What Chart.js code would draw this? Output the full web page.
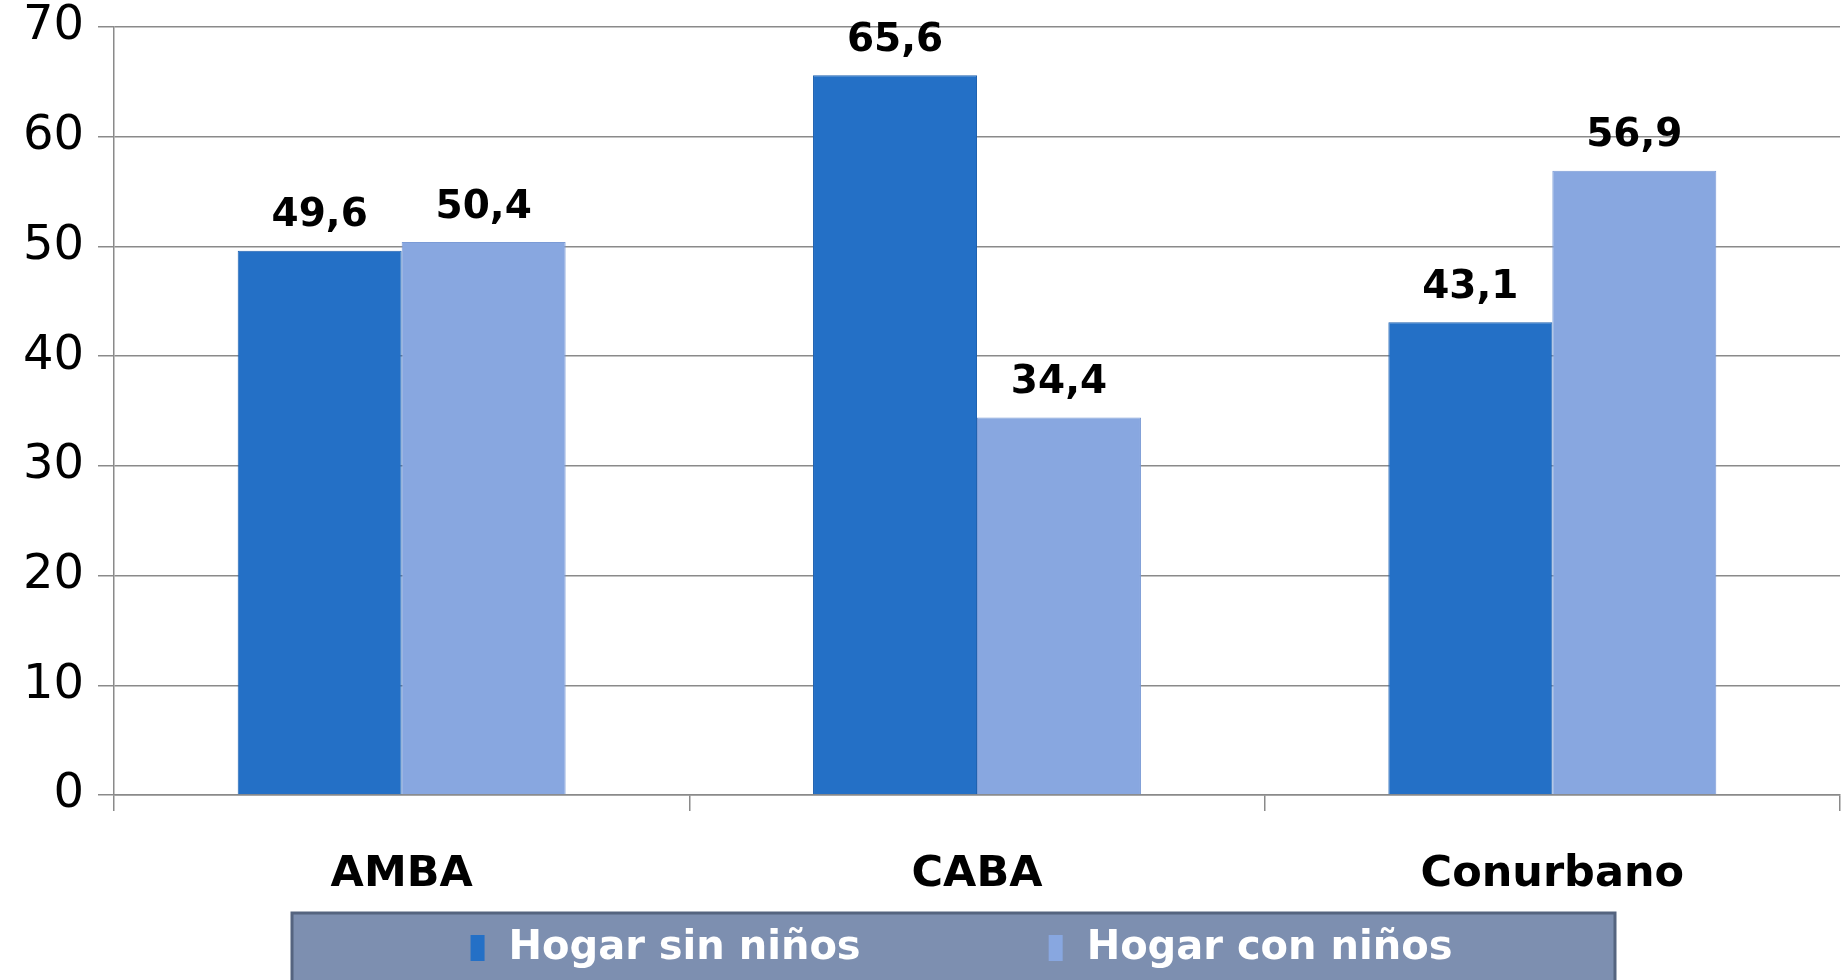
<!DOCTYPE html>
<html>
<head>
<meta charset="utf-8">
<script src="https://cdn.jsdelivr.net/npm/chart.js@4/dist/chart.umd.min.js"></script>
<style>
  html, body { margin: 0; padding: 0; background: #fff; }
  #wrap { width: 1847px; height: 980px; }
</style>
</head>
<body>
<div id="wrap"><canvas id="myChart" width="1847" height="980"></canvas></div>
<script>
// data
var categories = ["AMBA", "CABA", "Conurbano"];
var sinNinos = [49.6, 65.6, 43.1];
var conNinos = [50.4, 34.4, 56.9];
var seriesNames = ["Hogar sin niños", "Hogar con niños"];
var yTicks = [0, 10, 20, 30, 40, 50, 60, 70];

var FONT = "'DejaVu Sans', sans-serif";
var gridColor = "#8a8a8a";

function fmt(v) {
    return v.toFixed(1).replace(".", ",");
}

// value labels above the bars
const barLabels = {
    id: "barLabels",
    afterDatasetsDraw(chart) {
        const ctx = chart.ctx;
        ctx.save();
        ctx.font = "bold 39px " + FONT;
        ctx.fillStyle = "#000";
        ctx.textAlign = "center";
        ctx.textBaseline = "bottom";
        chart.data.datasets.forEach((ds, i) => {
            chart.getDatasetMeta(i).data.forEach((bar, j) => {
                ctx.fillText(fmt(ds.data[j]), bar.x, bar.y - 15);
            });
        });
        ctx.restore();
    }
};

// boxed legend at the bottom
const boxLegend = {
    id: "boxLegend",
    afterDraw(chart) {
        const ctx = chart.ctx;
        const top = 913, left = 292, right = 1615;
        ctx.save();
        ctx.fillStyle = "#7d8fb0";
        ctx.fillRect(left, top, right - left, 80);
        ctx.strokeStyle = "#55647f";
        ctx.lineWidth = 3;
        ctx.strokeRect(left, top, right - left, 80);

        ctx.font = "bold 40px " + FONT;
        const boxW = 14, boxH = 26, gap = 24, between = 188;
        let widths = chart.data.datasets.map(ds => boxW + gap + ctx.measureText(ds.label).width);
        let total = widths.reduce((a, b) => a + b, 0) + between * (widths.length - 1);
        let x = (left + right) / 2 - total / 2 + 8;
        const cy = 948;
        ctx.textBaseline = "middle";
        ctx.textAlign = "left";
        chart.data.datasets.forEach((ds, i) => {
            ctx.fillStyle = ds.backgroundColor;
            ctx.fillRect(x, cy - boxH / 2, boxW, boxH);
            ctx.fillStyle = "#fff";
            ctx.fillText(ds.label, x + boxW + gap, cy + 1);
            x += widths[i] + between;
        });
        ctx.restore();
    }
};

const CHART = document.getElementById("myChart");
let myChart = new Chart(CHART, {
    type: "bar",
    data: {
        labels: categories,
        datasets: [{
            label: seriesNames[0],
            data: sinNinos,
            backgroundColor: "#2470c6",
            borderColor: "#1f62b0",
            borderWidth: 1
        }, {
            label: seriesNames[1],
            data: conNinos,
            backgroundColor: "#88a7e0",
            borderColor: "#7b9bd6",
            borderWidth: 1
        }]
    },
    options: {
        responsive: false,
        animation: false,
        datasets: {
            bar: { categoryPercentage: 0.57, barPercentage: 1.0 }
        },
        layout: { padding: { top: 27, right: 7, bottom: 67, left: 0 } },
        plugins: {
            legend: { display: false },
            tooltip: { enabled: false }
        },
        scales: {
            x: {
                offset: true,
                grid: {
                    display: true,
                    offset: true,
                    drawOnChartArea: false,
                    drawTicks: true,
                    tickLength: 16,
                    color: gridColor,
                    lineWidth: 1.5
                },
                border: { display: true, color: gridColor, width: 1.5 },
                ticks: {
                    color: "#000",
                    font: { family: FONT, size: 43, weight: "bold" },
                    padding: 38
                },
                afterFit(scale) {
                    scale.height = 118;
                    scale.paddingLeft = 0;
                    scale.paddingRight = 0;
                }
            },
            y: {
                min: 0,
                max: 70,
                afterBuildTicks(scale) {
                    scale.ticks = yTicks.map(v => ({ value: v }));
                },
                grid: {
                    color: gridColor,
                    lineWidth: 1.5,
                    drawTicks: true,
                    tickLength: 16
                },
                border: { display: true, color: gridColor, width: 1.5 },
                ticks: {
                    color: "#000",
                    font: { family: FONT, size: 48 },
                    padding: 14
                },
                afterFit(scale) {
                    scale.width = 114;
                    scale.paddingTop = 0;
                    scale.paddingBottom = 0;
                }
            }
        }
    },
    plugins: [barLabels, boxLegend]
});
</script>
</body>
</html>
